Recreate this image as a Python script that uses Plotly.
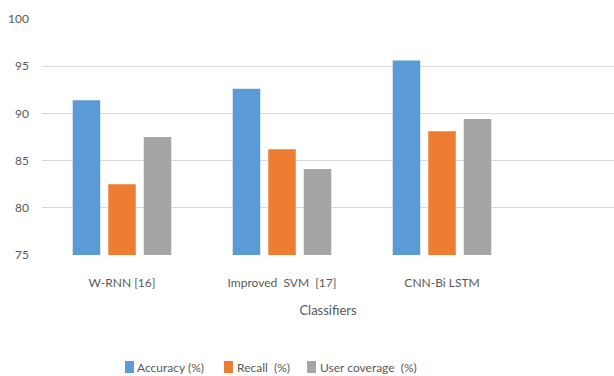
import plotly.graph_objects as go

classifiers = ["W-RNN [16]", "Improved  SVM  [17]", "CNN-Bi LSTM"]
accuracy = [91.4, 92.6, 95.6]
recall = [82.5, 86.2, 88.1]
user_coverage = [87.5, 84.1, 89.4]

series_names = ["Accuracy (%)", "Recall  (%)", "User coverage  (%)"]
series_values = [accuracy, recall, user_coverage]
series_colors = ["#5B9BD5", "#ED7D31", "#A5A5A5"]

font_family = "Lato, 'Open Sans', sans-serif"
text_color = "#595959"

# plot box geometry in pixels (used to place the hand-drawn legend)
W, H = 614, 376
L, R, T, B = 42, 0, 19, 121
plot_w, plot_h = W - L - R, H - T - B


def px_x(px):
    return (px - L) / plot_w


def px_y(py):
    return (H - B - py) / plot_h


fig = go.Figure()
for name, vals, color in zip(series_names, series_values, series_colors):
    fig.add_trace(go.Bar(
        x=classifiers, y=vals, name=name,
        marker=dict(color=color, line=dict(width=0)),
        showlegend=False,
    ))

# compact legend: coloured key squares with labels right beside them
legend_keys = [(125, 135), (224, 235), (307, 318)]
for (sx, tx), name, color in zip(legend_keys, series_names, series_colors):
    fig.add_shape(
        type="rect", xref="paper", yref="paper",
        x0=px_x(sx), x1=px_x(sx + 9), y0=px_y(373), y1=px_y(361),
        fillcolor=color, line=dict(width=0),
    )
    fig.add_annotation(
        xref="paper", yref="paper", x=px_x(tx), y=px_y(367),
        xanchor="left", yanchor="middle", showarrow=False,
        text=name, font=dict(size=12, color=text_color),
    )

fig.update_layout(
    width=W, height=H,
    margin=dict(l=L, r=R, t=T, b=B),
    paper_bgcolor="white", plot_bgcolor="white",
    barmode="group", bargap=0.334, bargroupgap=0.225,
    font=dict(family=font_family, size=12, color=text_color),
    showlegend=False,
    xaxis=dict(
        type="category", range=[-0.5, 3.075], automargin=False,
        showgrid=False, showline=False, ticks="",
        ticklabelstandoff=19,
        title=dict(text="Classifiers", font=dict(size=13, color=text_color), standoff=16),
    ),
    yaxis=dict(
        range=[75, 100], dtick=5, automargin=False,
        showgrid=True, gridcolor="#D9D9D9", gridwidth=1.3,
        zeroline=False, showline=False, ticks="",
        ticklabelstandoff=12,
    ),
)

fig.write_html("out.html")
